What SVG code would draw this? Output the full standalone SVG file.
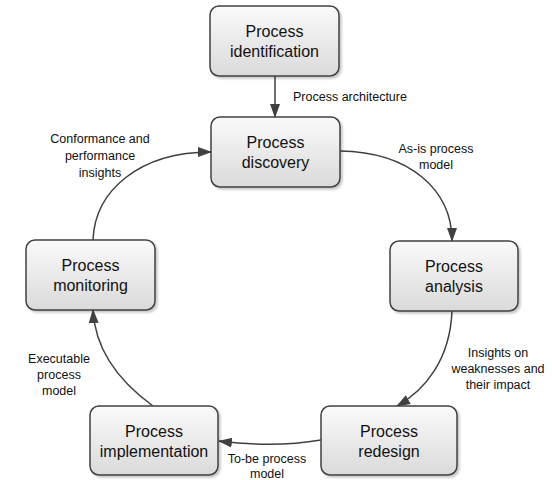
<svg xmlns="http://www.w3.org/2000/svg" width="552" height="480" viewBox="0 0 552 480">
<defs>
<linearGradient id="g" x1="0" y1="0" x2="0" y2="1">
<stop offset="0" stop-color="#fafafa"/>
<stop offset="1" stop-color="#dadada"/>
</linearGradient>
<filter id="sh" x="-10%" y="-10%" width="130%" height="130%">
<feGaussianBlur in="SourceAlpha" stdDeviation="1.2"/>
<feOffset dx="1.5" dy="1.5" result="b"/>
<feComponentTransfer><feFuncA type="linear" slope="0.22"/></feComponentTransfer>
<feMerge><feMergeNode/><feMergeNode in="SourceGraphic"/></feMerge>
</filter>
<marker id="ah" markerUnits="userSpaceOnUse" markerWidth="14" markerHeight="12" viewBox="0 0 14 12" refX="13" refY="6" orient="auto">
<path d="M0,1 L14,6 L0,11 Z" fill="#404040"/>
</marker>
</defs>
<style>
.box{fill:url(#g);stroke:#404040;stroke-width:1.5;filter:url(#sh)}
.nt{font-family:"Liberation Sans",Arial,sans-serif;font-size:16px;fill:#111;text-anchor:middle}
.lt{font-family:"Liberation Sans",Arial,sans-serif;font-size:12.5px;fill:#111;text-anchor:middle}
.c{fill:none;stroke:#404040;stroke-width:1.5;marker-end:url(#ah)}
</style>
<rect width="552" height="480" fill="#ffffff"/>
<g id="connectors">
<path class="c" d="M275,76 L275,117"/>
<path class="c" d="M340,151 C410,152 452,190 452,241"/>
<path class="c" d="M452,311 C450,360 425,390 397,406"/>
<path class="c" d="M321,440 Q275,448 219,441"/>
<path class="c" d="M153,406 C120,382 95,350 93,310"/>
<path class="c" d="M93,240 C95,190 140,152 211,152"/>
</g>
<g id="labels">
<text class="lt" x="293" y="101" style="text-anchor:start">Process architecture</text>
<text class="lt" x="436" y="153">As-is process</text>
<text class="lt" x="436" y="169">model</text>
<text class="lt" x="498" y="357">Insights on</text>
<text class="lt" x="498" y="373">weaknesses and</text>
<text class="lt" x="498" y="389">their impact</text>
<text class="lt" x="267" y="463">To-be process</text>
<text class="lt" x="267" y="478">model</text>
<text class="lt" x="59" y="363">Executable</text>
<text class="lt" x="59" y="379">process</text>
<text class="lt" x="59" y="395">model</text>
<text class="lt" x="100" y="143">Conformance and</text>
<text class="lt" x="100" y="160">performance</text>
<text class="lt" x="100" y="177">insights</text>
</g>
<g id="identification">
<rect class="box" x="210" y="6" width="129" height="70" rx="9"/>
<text class="nt" x="274.5" y="37">Process</text>
<text class="nt" x="274.5" y="57">identification</text>
</g>
<g id="discovery">
<rect class="box" x="211" y="117" width="129" height="70" rx="9"/>
<text class="nt" x="275.5" y="148">Process</text>
<text class="nt" x="275.5" y="168">discovery</text>
</g>
<g id="analysis">
<rect class="box" x="390" y="241" width="128" height="70" rx="9"/>
<text class="nt" x="454" y="272">Process</text>
<text class="nt" x="454" y="292">analysis</text>
</g>
<g id="redesign">
<rect class="box" x="321" y="406" width="136" height="69" rx="9"/>
<text class="nt" x="389" y="437">Process</text>
<text class="nt" x="389" y="457">redesign</text>
</g>
<g id="implementation">
<rect class="box" x="90" y="406" width="128" height="69" rx="9"/>
<text class="nt" x="154" y="437">Process</text>
<text class="nt" x="154" y="457">implementation</text>
</g>
<g id="monitoring">
<rect class="box" x="26" y="240" width="129" height="70" rx="9"/>
<text class="nt" x="90.5" y="271">Process</text>
<text class="nt" x="90.5" y="291">monitoring</text>
</g>
</svg>
